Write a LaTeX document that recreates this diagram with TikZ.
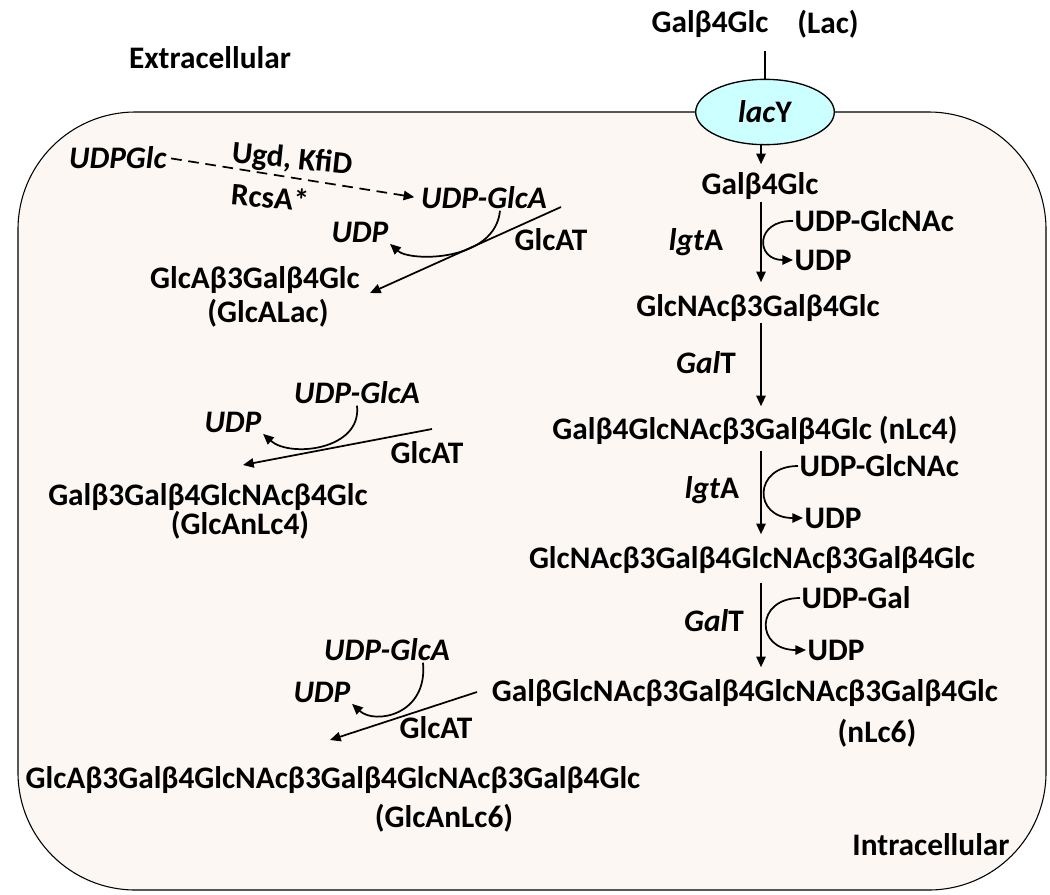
\documentclass[tikz,border=0pt]{standalone}
\usepackage{fontspec}
\setmainfont{Carlito}
\usepackage{tikz}
\usetikzlibrary{arrows.meta, shapes.geometric, positioning, calc}
\definecolor{cellfill}{RGB}{252,247,243}
\definecolor{lacycyan}{RGB}{204,255,255}

\begin{document}
\begin{tikzpicture}[
  x=0.75pt, y=-0.75pt,
  font=\fontsize{23.5}{28}\selectfont\bfseries,
  every node/.style={inner sep=1pt},
  arr/.style={line width=1.4pt, -{Triangle[length=8pt,width=7pt]}},
  sidearr/.style={arr, line width=1.3pt},
  dasharr/.style={arr, line width=1.3pt, dash pattern=on 8pt off 5pt},
  cell/.style={draw, line width=0.8pt, fill=cellfill, rounded corners=88pt},
  porter/.style={ellipse, draw, line width=1pt, fill=lacycyan,
    minimum width=104pt, minimum height=49pt, inner sep=0pt}
]
\useasboundingbox (0,0) rectangle (1050,894);

% cell
\draw[cell] (18,112) rectangle (1046,890);
\node (extra) at (210,58) {Extracellular};
\node (intra) at (931,845) {Intracellular};

% lactose uptake
\node (lac) at (710,24) {Galβ4Glc};
\node (lacname) at (828,24) {(Lac)};
\coordinate (lactop) at (765,51);
\node[porter] (lacy) at (765,112) {\textit{lac}Y};
\draw[line width=1pt] (lactop) -- (lacy.north);

% main chain
\coordinate (ax) at (761,0);
\node (g1) at (760,186) {Galβ4Glc};
\node (g2) at (758,308) {GlcNAcβ3Galβ4Glc};
\node (g3) at (755,430) {Galβ4GlcNAcβ3Galβ4Glc (nLc4)};
\node (g4) at (752,560) {GlcNAcβ3Galβ4GlcNAcβ3Galβ4Glc};
\node (g5) at (745,693) {GalβGlcNAcβ3Galβ4GlcNAcβ3Galβ4Glc};
\node (g5n) at (877,733) {(nLc6)};

\draw[arr, shorten >=5pt] (lacy.south -| ax) -- (g1.north -| ax);
\draw[arr, shorten <=1pt, shorten >=8pt] (g1.south -| ax) -- (g2.north -| ax);
\draw[arr, shorten >=6pt] (g2.south -| ax) -- (g3.north -| ax);
\draw[arr, shorten <=4pt, shorten >=8pt] (g3.south -| ax) -- (g4.north -| ax);
\draw[arr, shorten <=6pt, shorten >=8pt] (g4.south -| ax) -- (g5.north -| ax);

\node (e1) at (696,242) {\textit{lgt}A};
\node (e2) at (706,363) {\textit{Gal}T};
\node (e3) at (712,490) {\textit{lgt}A};
\node (e4) at (714,621) {\textit{Gal}T};

\node[anchor=west] (u1a) at (793,221) {UDP-GlcNAc};
\node[anchor=west] (u1b) at (793,260) {UDP};
\node[anchor=west] (u2a) at (798,466) {UDP-GlcNAc};
\node[anchor=west] (u2b) at (803,518) {UDP};
\node[anchor=west] (u3a) at (800,598) {UDP-Gal};
\node[anchor=west] (u3b) at (806,650) {UDP};

\draw[sidearr] (u1a.west) .. controls (755,220) and (755,260) .. (u1b.west);
\draw[sidearr] (u2a.west) .. controls (753,466) and (753,518) .. (u2b.west);
\draw[sidearr] (u3a.west) .. controls (755,598) and (755,650) .. (u3b.west);

% GlcA branch, lactose
\node (udpglc) at (118,158) {\textit{UDPGlc}};
\node[rotate=-6] (ugd) at (292,160) {Ugd, KfiD};
\node[rotate=-5] (rcs) at (270,197) {RcsA*};
\node (glca1) at (484,198) {\textit{UDP-GlcA}};
\node (udp1) at (360,232) {\textit{UDP}};
\node (glcat1) at (551,240) {GlcAT};
\node (p1) at (255,280) {GlcAβ3Galβ4Glc};
\node (p1n) at (268,313) {(GlcALac)};
\draw[dasharr, shorten <=2pt, shorten >=4pt] (udpglc.east) -- (glca1.west);
\coordinate (t1a) at (561,207);
\coordinate (t1b) at (370,293);
\draw[sidearr] (t1a) -- (t1b);
\draw[sidearr] (glca1.south -| 500,0) .. controls (495,262) and (410,262) .. (udp1.south east);

% GlcA branch, nLc4
\node (glca2) at (357,393) {\textit{UDP-GlcA}};
\node (udp2) at (233,422) {\textit{UDP}};
\node (glcat2) at (427,453) {GlcAT};
\node (p2) at (208,497) {Galβ3Galβ4GlcNAcβ4Glc};
\node (p2n) at (240,525) {(GlcAnLc4)};
\coordinate (t2a) at (432,429);
\coordinate (t2b) at (243,465);
\draw[sidearr] (t2a) -- (t2b);
\draw[sidearr] (glca2.south) .. controls (362,450) and (290,458) .. (udp2.south east);

% GlcA branch, nLc6
\node (glca3) at (387,650) {\textit{UDP-GlcA}};
\node (udp3) at (322,692) {\textit{UDP}};
\node (glcat3) at (436,728) {GlcAT};
\node (p3) at (333,780) {GlcAβ3Galβ4GlcNAcβ3Galβ4GlcNAcβ3Galβ4Glc};
\node (p3n) at (444,818) {(GlcAnLc6)};
\coordinate (t3a) at (477,692);
\coordinate (t3b) at (330,740);
\draw[sidearr] (t3a) -- (t3b);
\draw[sidearr] (glca3.south -| 423,0) .. controls (428,715) and (375,725) .. (udp3.south east);
\end{tikzpicture}
\end{document}
